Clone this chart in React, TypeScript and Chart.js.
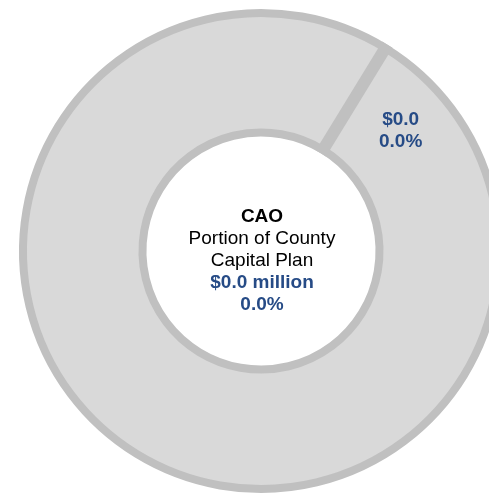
import React, { useEffect, useRef } from "react";
import { Chart, registerables } from "chart.js";

Chart.register(...registerables);

// ---- data ----
const categories: string[] = ["CAO", "Rest of County Capital Plan"];
const sharePercent: number[] = [0.0, 100.0];
const sliceLabelAmounts: string[] = ["$0.0", ""];
const sliceLabelPercents: string[] = ["0.0%", ""];
const centerTitle: string = "CAO";
const centerSubtitle: string[] = ["Portion of County", "Capital Plan"];
const centerAmount: string = "$0.0 million";
const centerPercent: string = "0.0%";

// ---- styles ----
const FILL = "#d9d9d9";
const BORDER = "#c0c0c0";
const BLUE = "#264b86";
const FONT = "'Liberation Sans', Arial, sans-serif";
const ROTATION_DEG = 31.5;
const ZERO_SLICE_WIDTH = 12;
const LABEL_ANGLE_SHIFT_DEG = 17.8;

const zeroSlicePlugin = {
  id: "zeroSlice",
  afterDatasetsDraw(chart: any) {
    const meta = chart.getDatasetMeta(0);
    const data = chart.data.datasets[0].data as number[];
    const ctx = chart.ctx;
    meta.data.forEach((el: any, i: number) => {
      if (data[i] !== 0) return;
      const { x, y, startAngle, innerRadius, outerRadius } = el.getProps(
        ["x", "y", "startAngle", "innerRadius", "outerRadius"],
        true
      );
      const bw = el.options.borderWidth || 0;
      const r0 = innerRadius - bw / 2;
      const r1 = outerRadius + bw / 2;
      ctx.save();
      ctx.strokeStyle = BORDER;
      ctx.lineWidth = ZERO_SLICE_WIDTH;
      ctx.lineCap = "butt";
      ctx.beginPath();
      ctx.moveTo(x + Math.cos(startAngle) * r0, y + Math.sin(startAngle) * r0);
      ctx.lineTo(x + Math.cos(startAngle) * r1, y + Math.sin(startAngle) * r1);
      ctx.stroke();
      ctx.restore();
    });
  },
};

const labelsPlugin = {
  id: "ringLabels",
  afterDraw(chart: any) {
    const meta = chart.getDatasetMeta(0);
    const ctx = chart.ctx;
    ctx.save();
    ctx.textAlign = "center";
    ctx.textBaseline = "middle";
    meta.data.forEach((el: any, i: number) => {
      if (!sliceLabelAmounts[i]) return;
      const { x, y, startAngle, endAngle, innerRadius, outerRadius } = el.getProps(
        ["x", "y", "startAngle", "endAngle", "innerRadius", "outerRadius"],
        true
      );
      const a = (startAngle + endAngle) / 2 + (LABEL_ANGLE_SHIFT_DEG * Math.PI) / 180;
      const r = innerRadius + 0.55 * (outerRadius - innerRadius);
      const lx = x + Math.cos(a) * r;
      const ly = y + Math.sin(a) * r;
      ctx.fillStyle = BLUE;
      ctx.font = `bold 19px ${FONT}`;
      ctx.fillText(sliceLabelAmounts[i], lx, ly - 11);
      ctx.fillText(sliceLabelPercents[i], lx, ly + 11);
    });

    // center text
    const el0 = meta.data[0];
    const cx = el0.x;
    const cy = el0.y;
    const lines: { t: string; bold: boolean; color: string }[] = [
      { t: centerTitle, bold: true, color: "#000000" },
      ...centerSubtitle.map((t) => ({ t, bold: false, color: "#000000" })),
      { t: centerAmount, bold: true, color: BLUE },
      { t: centerPercent, bold: true, color: BLUE },
    ];
    lines.forEach((ln, i) => {
      ctx.font = `${ln.bold ? "bold " : ""}19px ${FONT}`;
      ctx.fillStyle = ln.color;
      ctx.fillText(ln.t, cx + 1, cy - 34 + i * 22);
    });
    ctx.restore();
  },
};

export default function App() {
  const ref = useRef<HTMLCanvasElement | null>(null);

  useEffect(() => {
    if (!ref.current) return;
    const chart = new Chart(ref.current, {
      type: "doughnut",
      data: {
        labels: categories,
        datasets: [
          {
            data: sharePercent,
            backgroundColor: [BORDER, FILL],
            borderColor: BORDER,
            borderWidth: 8,
            borderAlign: "center",
          },
        ],
      },
      options: {
        responsive: false,
        maintainAspectRatio: false,
        animation: false,
        rotation: ROTATION_DEG,
        radius: 238,
        cutout: 123,
        layout: { padding: 0 },
        plugins: {
          legend: { display: false },
          tooltip: { enabled: false },
        },
      },
      plugins: [zeroSlicePlugin, labelsPlugin],
    });
    return () => chart.destroy();
  }, []);

  return (
    <div
      style={{
        position: "fixed",
        left: 0,
        top: 0,
        width: 489,
        height: 493,
        overflow: "hidden",
        background: "#ffffff",
      }}
    >
      <canvas
        ref={ref}
        width={502}
        height={502}
        style={{ position: "absolute", left: 10, top: 0, width: 502, height: 502 }}
      />
    </div>
  );
}
